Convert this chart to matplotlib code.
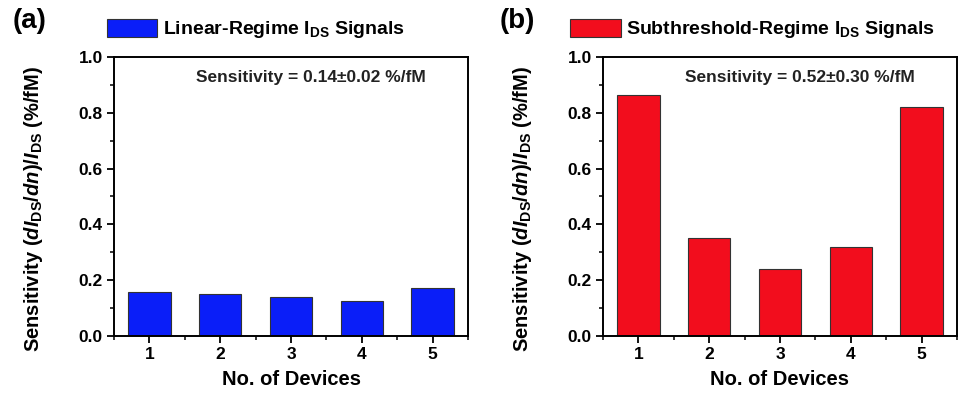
import matplotlib
matplotlib.use("Agg")
import matplotlib.pyplot as plt
from matplotlib.ticker import MultipleLocator, FormatStrFormatter

plt.rcParams['font.family'] = ['Liberation Sans', 'DejaVu Sans']
plt.rcParams['font.weight'] = 'bold'
plt.rcParams['mathtext.fontset'] = 'custom'
plt.rcParams['mathtext.rm'] = 'Liberation Sans:bold'
plt.rcParams['mathtext.bf'] = 'Liberation Sans:bold'
plt.rcParams['mathtext.it'] = 'Liberation Sans:bold:italic'
plt.rcParams['mathtext.default'] = 'it'

devices = [1, 2, 3, 4, 5]
linear_vals = [0.156, 0.150, 0.140, 0.124, 0.172]
subthr_vals = [0.864, 0.350, 0.239, 0.318, 0.821]
legend_labels = [r"Linear-Regime I$_{\mathrm{DS}}$ Signals",
                 r"Subthreshold-Regime I$_{\mathrm{DS}}$ Signals"]
annotations = ["Sensitivity = 0.14\u00b10.02 %/fM",
               "Sensitivity = 0.52\u00b10.30 %/fM"]
panel_labels = ["(a)", "(b)"]
colors = ["#0A1EF8", "#F20D1D"]
ylabel = r"Sensitivity $\mathrm{(}dI_{\mathrm{DS}}/dn\mathrm{)}/I_{\mathrm{DS}}$ (%/fM)"
xlabel = "No. of Devices"

fig = plt.figure(figsize=(9.63, 3.96), dpi=100)
W, H = 963, 396
axes_px = [(114, 468), (603, 957)]
top_px, bot_px = 57, 336
leg_x = [-0.02, -0.093]

for i, (l, r) in enumerate(axes_px):
    ax = fig.add_axes([l / W, 1 - bot_px / H, (r - l) / W, (bot_px - top_px) / H])
    vals = linear_vals if i == 0 else subthr_vals
    ax.bar(devices, vals, width=0.6, color=colors[i], edgecolor="#333333",
           linewidth=0.8, label=legend_labels[i])
    ax.set_xlim(0.5, 5.5)
    ax.set_ylim(0, 1.0)
    ax.yaxis.set_major_locator(MultipleLocator(0.2))
    ax.yaxis.set_minor_locator(MultipleLocator(0.1))
    ax.set_xticks(devices)
    ax.xaxis.set_minor_locator(MultipleLocator(0.5))
    ax.yaxis.set_major_formatter(FormatStrFormatter('%.1f'))
    for s in ax.spines.values():
        s.set_linewidth(1.4)
    ax.tick_params(axis='both', which='major', direction='out', length=5,
                   width=1.3, labelsize=12.5, top=False, right=False, pad=3)
    ax.tick_params(axis='both', which='minor', direction='out', length=3,
                   width=1.1, top=False, right=False)
    for t in ax.get_xticklabels() + ax.get_yticklabels():
        t.set_fontweight('bold')
    ax.set_xlabel(xlabel, fontsize=14.5, fontweight='bold', labelpad=6)
    ax.set_ylabel(ylabel, fontsize=14.5, fontweight='bold')
    ax.yaxis.set_label_coords(-0.195, 0.457)
    ax.text(0.557, 0.925, annotations[i], transform=ax.transAxes,
            ha='center', va='center', fontsize=12.5, fontweight='bold',
            color='#222222')
    leg = ax.legend(loc='lower left', bbox_to_anchor=(leg_x[i], 1.06),
                    frameon=False, fontsize=14, handlelength=2.6,
                    handleheight=1.05, handletextpad=0.3, borderpad=0,
                    borderaxespad=0)
    for t in leg.get_texts():
        t.set_fontweight('bold')
    fig.text((13 if i == 0 else 500) / W, 1 - 21 / H, panel_labels[i],
             fontsize=20, fontweight='bold', ha='left', va='center')

fig.savefig("out.png", dpi=100)
